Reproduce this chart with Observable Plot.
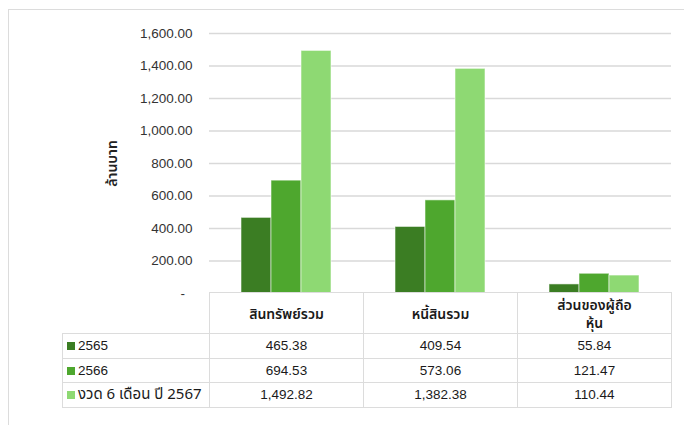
<!DOCTYPE html>
<html>
<head>
<meta charset="utf-8">
<script src="https://cdn.jsdelivr.net/npm/d3@7"></script>
<script src="https://cdn.jsdelivr.net/npm/@observablehq/plot@0.6"></script>
<style>
  html, body { margin: 0; padding: 0; background: #fff; overflow: hidden; }
  #wrap { position: relative; width: 684px; height: 425px; overflow: hidden; }
  #frame { position: absolute; left: 8px; top: 9px; width: 700px; height: 440px; border: 1.5px solid #dcdcdc; box-sizing: border-box; }
  #chart { position: absolute; left: 0; top: 0; }
  #table { position: absolute; left: 62px; top: 292px; border-collapse: collapse; table-layout: fixed;
           font-family: "Liberation Sans", Arial, sans-serif; font-size: 13.5px; color: #1a1a1a; }
  #table td { border: 1.5px solid #dcdcdc; padding: 0; text-align: center; overflow: visible; white-space: nowrap; }
  #table td.empty { border: none; }
  #table tr.head td { height: 41px; font-family: "Noto Sans Thai", "Noto Sans", sans-serif; font-weight: 600; font-size: 14px; white-space: pre-line; line-height: 18px; padding-top: 4px; box-sizing: border-box; }
  #table tr.row td { height: 23.6px; }
  #table td.lab { text-align: left; padding-left: 4px; }
  .sw { display: inline-block; width: 8px; height: 8px; margin-right: 3px; vertical-align: 0px; }
  .th { font-family: "Noto Sans Thai", "Noto Sans", sans-serif; font-size: 15px; }
</style>
</head>
<body>
<div id="wrap">
  <div id="frame"></div>
  <div id="chart"></div>
  <table id="table"></table>
</div>
<script>
// ---- data ----
const categories = ["สินทรัพย์รวม", "หนี้สินรวม", "ส่วนของผู้ถือหุ้น"];
const categoryLabels = ["สินทรัพย์รวม", "หนี้สินรวม", "ส่วนของผู้ถือ\nหุ้น"];
const series = ["2565", "2566", "งวด 6 เดือน ปี 2567"];
const values2565 = [465.38, 409.54, 55.84];
const values2566 = [694.53, 573.06, 121.47];
const values2567 = [1492.82, 1382.38, 110.44];
const yTicks = [0, 200, 400, 600, 800, 1000, 1200, 1400, 1600];
const yLabel = "ล้านบาท";
const colors = ["#3b7d23", "#4ea72e", "#8ed973"];

const seriesValues = [values2565, values2566, values2567];
const data = [];
series.forEach((s, i) => categories.forEach((c, j) => data.push({series: s, category: c, value: seriesValues[i][j]})));

const fmt = d3.format(",.2f");

const chart = Plot.plot({
  width: 684,
  height: 300,
  marginLeft: 209,
  marginRight: 13,
  marginTop: 33,
  marginBottom: 7,
  style: {fontFamily: "'Liberation Sans', Arial, sans-serif", fontSize: "13.5px", color: "#333", background: "transparent", overflow: "visible"},
  fx: {domain: categories, padding: 0, axis: null, round: false},
  x: {domain: series, paddingInner: 0, paddingOuter: 1.067, axis: null, round: false},
  y: {domain: [0, 1600], ticks: yTicks, tickSize: 0, tickPadding: 17, label: null,
      tickFormat: d => d === 0 ? "-\u00a0\u00a0" : fmt(d)},
  color: {domain: series, range: colors},
  marks: [
    Plot.ruleY(yTicks.filter(d => d > 0), {stroke: "#d9d9d9", strokeWidth: 1.5}),
    Plot.barY(data, {fx: "category", x: "series", y: "value", fill: "series", stroke: "#ffffff", strokeOpacity: 0.55, strokeWidth: 1}),
    Plot.text([{text: yLabel, category: categories[0]}], {fx: "category", frameAnchor: "left", textAnchor: "middle", rotate: -90, dx: -97, text: "text",
      fontFamily: "'Noto Sans Thai', 'Noto Sans', sans-serif", fontSize: 14, fontWeight: 600, fill: "#222"})
  ]
});
document.getElementById("chart").appendChild(chart);

// ---- data table ----
const table = document.getElementById("table");
const colgroup = document.createElement("colgroup");
[147, 154, 154, 154].forEach(w => { const col = document.createElement("col"); col.style.width = w + "px"; colgroup.appendChild(col); });
table.appendChild(colgroup);
const head = document.createElement("tr");
head.className = "head";
const empty = document.createElement("td"); empty.className = "empty"; head.appendChild(empty);
categoryLabels.forEach(c => { const td = document.createElement("td"); td.textContent = c; head.appendChild(td); });
table.appendChild(head);
series.forEach((s, i) => {
  const tr = document.createElement("tr");
  tr.className = "row";
  const lab = document.createElement("td");
  lab.className = "lab";
  const sw = document.createElement("span"); sw.className = "sw"; sw.style.background = colors[i];
  lab.appendChild(sw);
  const t = document.createElement("span"); t.textContent = s; if (/[\u0E00-\u0E7F]/.test(s)) t.className = "th";
  lab.appendChild(t);
  tr.appendChild(lab);
  seriesValues[i].forEach(v => { const td = document.createElement("td"); td.textContent = fmt(v); tr.appendChild(td); });
  table.appendChild(tr);
});
</script>
</body>
</html>
